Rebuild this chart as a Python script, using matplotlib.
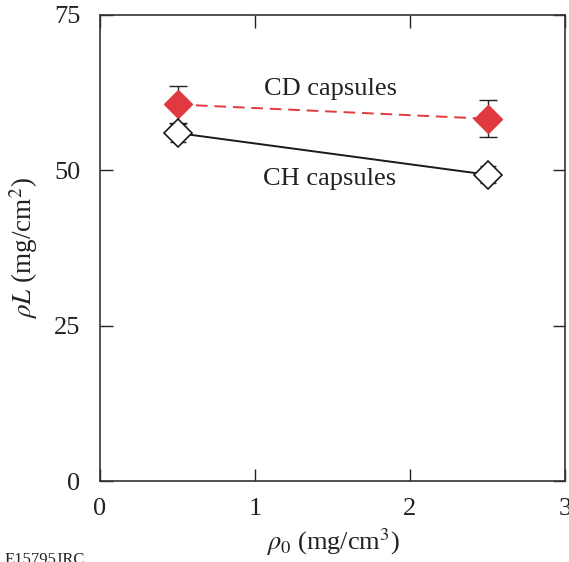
import matplotlib
matplotlib.use("Agg")
import matplotlib.pyplot as plt

rho0 = [0.5, 2.5]
cd_vals = [60.6, 58.3]
cd_err = [3.0, 3.0]
ch_vals = [56.0, 49.3]
ch_err = [1.4, 1.4]

plt.rcParams['font.family'] = ['Liberation Serif', 'DejaVu Serif']
plt.rcParams['mathtext.fontset'] = 'stix'

fig = plt.figure(figsize=(5.69, 5.62), dpi=100)
ax = fig.add_axes([100/569, 1-481/562, 465/569, 466/562])

red = '#E0393F'
ax.errorbar(rho0, cd_vals, yerr=cd_err, fmt='none', ecolor='#222222', elinewidth=1.0,
            capsize=6.5, capthick=1.0, zorder=2)
ax.errorbar(rho0, ch_vals, yerr=ch_err, fmt='none', ecolor='#222222', elinewidth=1.0,
            capsize=5.5, capthick=1.0, zorder=2)
ax.plot(rho0, cd_vals, ls=(0, (6, 3.5)), color=red, lw=1.4, zorder=3)
ax.plot(rho0, cd_vals, ls='none', marker='D', ms=14.5, mfc=red, mec=red, zorder=4)
ax.plot(rho0, ch_vals, ls='-', color='#1a1a1a', lw=1.4, zorder=3)
ax.plot(rho0, ch_vals, ls='none', marker='D', ms=14.5, mfc='white', mec='#1a1a1a',
        mew=1.2, zorder=4)

ax.text(1.484, 63.1, 'CD capsules', fontsize=19, ha='center', va='center', color='#222222')
ax.text(1.484, 48.6, 'CH capsules', fontsize=19, ha='center', va='center', color='#222222')

ax.set_xlim(0, 3)
ax.set_ylim(0, 75)
ax.set_xticks([0, 1, 2, 3])
ax.set_yticks([0, 25, 50, 75])
ax.tick_params(direction='in', length=9, width=1, labelsize=19, top=True, right=True,
               colors='#222222')
ax.tick_params(axis='x', pad=12)
ax.tick_params(axis='y', pad=14)
for s in ax.spines.values():
    s.set_linewidth(1.2)
    s.set_color('#333333')

ax.set_xlabel(r'$\rho_0$ (mg/cm$^3$)', fontsize=19, color='#222222', labelpad=5)
ax.set_ylabel(r'$\rho L$ (mg/cm$^2$)', fontsize=19.5, color='#222222', labelpad=10)

fig.text(5/569, 1-552/562, 'E15795JRC', fontsize=12, color='#222222', va='top')

fig.savefig('out.png', dpi=100)
